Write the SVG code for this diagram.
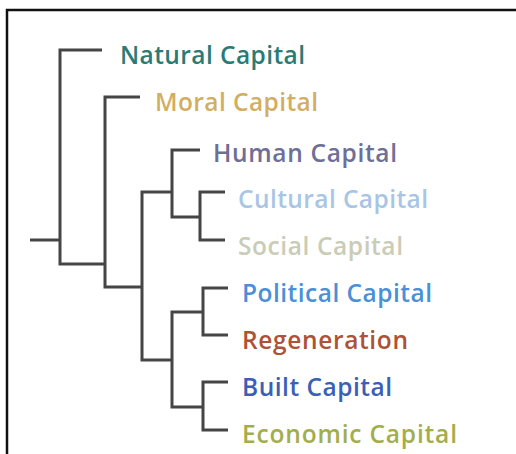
<svg xmlns="http://www.w3.org/2000/svg" width="516" height="454" viewBox="0 0 516 454">
  <style>
    .frame { fill: none; stroke: #111; stroke-width: 2.5; }
    .branch { fill: none; stroke: #454545; stroke-width: 3; stroke-linecap: butt; stroke-linejoin: miter; }
    .label { font-family: "Open Sans", "Liberation Sans", sans-serif; font-size: 24.5px; font-weight: 600; }
  </style>
  <rect width="516" height="454" fill="#ffffff"/>
  <!-- outer frame: only top and left edges fall inside the canvas -->
  <path class="frame" d="M7 460 V10 H520"/>

  <g id="connectors">
    <!-- root stem -->
    <path class="branch" d="M30 240 H60"/>
    <!-- Natural Capital vs rest -->
    <path class="branch" d="M102 50 H60 V264 H105"/>
    <!-- Moral Capital vs rest -->
    <path class="branch" d="M140 97 H105 V287 H142"/>
    <!-- upper clade vs lower clade -->
    <path class="branch" d="M172 192 H142 V360 H172"/>
    <!-- Human Capital vs Cultural/Social -->
    <path class="branch" d="M200 150 H172 V217 H200"/>
    <!-- Cultural / Social -->
    <path class="branch" d="M225 192 H200 V240 H225"/>
    <!-- lower clade -->
    <path class="branch" d="M203 312 H172 V407 H203"/>
    <!-- Political / Regeneration -->
    <path class="branch" d="M228 288 H203 V335 H228"/>
    <!-- Built / Economic -->
    <path class="branch" d="M228 382 H203 V430 H228"/>
  </g>

  <g id="natural"><text class="label" x="120" y="64" textLength="185" lengthAdjust="spacing" fill="#2a7a75">Natural Capital</text></g>
  <g id="moral"><text class="label" x="155" y="111" textLength="163" lengthAdjust="spacing" fill="#d2ae63">Moral Capital</text></g>
  <g id="human"><text class="label" x="213" y="162" textLength="184" lengthAdjust="spacing" fill="#6d6f96">Human Capital</text></g>
  <g id="cultural"><text class="label" x="238" y="208" textLength="190" lengthAdjust="spacing" fill="#a8c5e6">Cultural Capital</text></g>
  <g id="social"><text class="label" x="238" y="255" textLength="165" lengthAdjust="spacing" fill="#c9ccb6">Social Capital</text></g>
  <g id="political"><text class="label" x="242" y="302" textLength="190" lengthAdjust="spacing" fill="#4b8fd8">Political Capital</text></g>
  <g id="regeneration"><text class="label" x="242" y="349" textLength="166" lengthAdjust="spacing" fill="#ad5236">Regeneration</text></g>
  <g id="built"><text class="label" x="242" y="396" textLength="150" lengthAdjust="spacing" fill="#3a60b6">Built Capital</text></g>
  <g id="economic"><text class="label" x="242" y="443" textLength="215" lengthAdjust="spacing" fill="#a2ae4c">Economic Capital</text></g>
</svg>
